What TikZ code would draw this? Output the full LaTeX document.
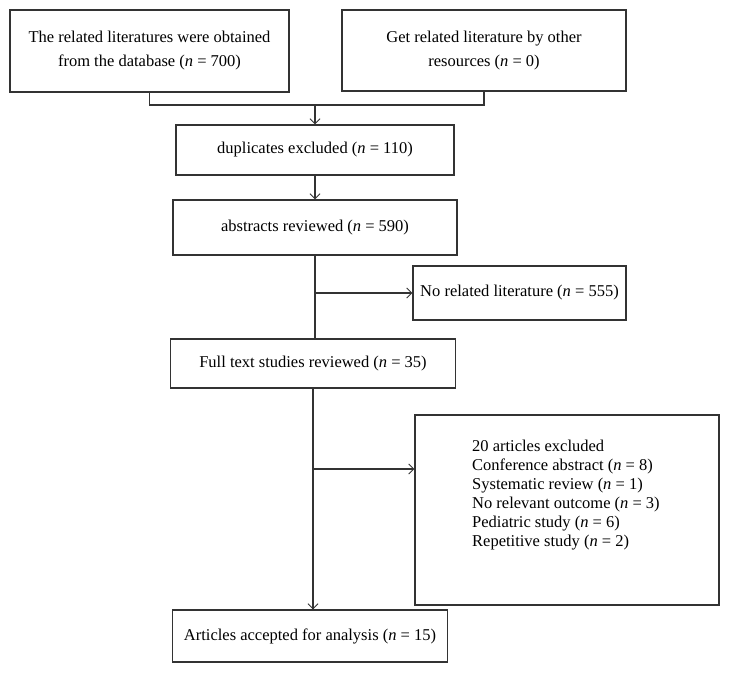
\documentclass[tikz,border=0pt]{standalone}
\usepackage{fontspec}
\setmainfont{Liberation Serif}
\usetikzlibrary{arrows.meta}
\begin{document}
\begin{tikzpicture}[x=1pt,y=-1pt,
  box/.style={draw=black!80, line width=1.1pt, fill=white, align=center, inner sep=2pt,
    font=\fontsize{16.5}{24}\selectfont},
  conn/.style={draw=black!80, line width=1.1pt},
  arr/.style={conn, -{Straight Barb[length=5pt,width=10pt,line width=1pt]}}
]
\useasboundingbox (0,0) rectangle (729,674);
\node[box, minimum width=279, minimum height=82] (A) at (149.5,51)
  {The related literatures were obtained\\from the database (\textit{n} = 700)};
\node[box, minimum width=284, minimum height=81] (B) at (484,50.5)
  {Get related literature by other\\resources (\textit{n} = 0)};
\node[box, minimum width=278, minimum height=50] (C) at (315,150)
  {duplicates excluded (\textit{n} = 110)};
\node[box, minimum width=284, minimum height=55] (D) at (315,227.5)
  {abstracts reviewed (\textit{n} = 590)};
\node[box, minimum width=213, minimum height=54] (F) at (519.5,293)
  {No related literature (\textit{n} = 555)};
\node[box, minimum width=285, minimum height=49] (E) at (313,363.5)
  {Full text studies reviewed (\textit{n} = 35)};
\node[box, minimum width=304, minimum height=190] (H) at (567,510) {};
\node[anchor=north west, align=left, inner sep=0pt, font=\fontsize{16.5}{19}\selectfont] (Ht) at (472,440)
  {20 articles excluded\\
   Conference abstract (\textit{n} = 8)\\
   Systematic review (\textit{n} = 1)\\
   No relevant outcome (\textit{n} = 3)\\
   Pediatric study (\textit{n} = 6)\\
   Repetitive study (\textit{n} = 2)};
\node[box, minimum width=275, minimum height=52] (G) at (310,636)
  {Articles accepted for analysis (\textit{n} = 15)};
% merge
\coordinate (J) at (315,105);
\draw[conn] (A.south) |- (J) -| (B.south);
\draw[arr] (J) -- (C.north);
\draw[arr] (C.south) -- (C.south |- D.north);
\draw[conn] (D.south) -- (D.south |- E.north);
\coordinate (K) at (D.south |- F.west);
\draw[arr] (K) -- (F.west);
\draw[conn] (E.south) -- (E.south |- G.north);
\coordinate (L) at (E.south |- 0,469);
\draw[arr] (L) -- (L -| H.west);
\draw[arr] (E.south |- 0,600) -- (E.south |- G.north);
\end{tikzpicture}
\end{document}
